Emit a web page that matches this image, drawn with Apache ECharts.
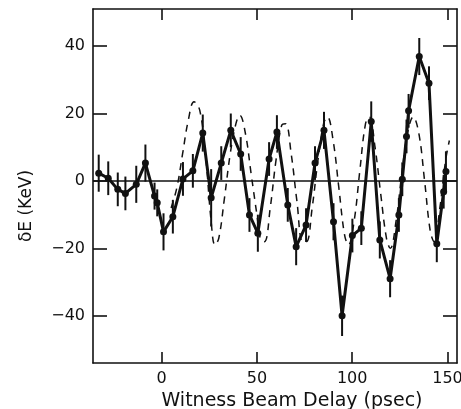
<!DOCTYPE html>
<html>
<head>
<meta charset="utf-8">
<script src="https://cdn.jsdelivr.net/npm/echarts@6/dist/echarts.min.js"></script>
<style>
  html, body { margin: 0; padding: 0; background: #fff; }
  #chart { width: 461px; height: 409px; }
</style>
</head>
<body>
<div id="chart"></div>
<script>
  // measured points (psec, keV) with error half-width
  var delay = [-33, -28, -23, -19, -13.3, -8.5, -3.7, -2.3, 1, 5.9, 11.2, 16.4, 21.6, 26, 31.3, 36.3, 41.5, 46.1, 50.5, 56.4, 60.5, 66.2, 70.6, 75.8, 80.5, 85.2, 90.2, 94.7, 100.1, 104.8, 110, 114.5, 119.9, 124.5, 126.3, 128.5, 129.6, 135.2, 140.3, 144.4, 148, 149.2]
  var deltaE = [2.3, 0.8, -2.5, -3.7, -1, 5.3, -4.5, -6.5, -15.1, -10.6, 0.6, 3, 14.2, -5, 5.3, 15, 8, -10.1, -15.5, 6.5, 14.5, -7.1, -19.5, -13.1, 5.3, 15, -12.1, -40, -16.2, -14, 17.6, -17.5, -29, -10.1, 0.5, 13.2, 20.8, 36.9, 29, -18.6, -3.2, 2.8]
  var errBar = [5.5, 5, 5, 5, 5.5, 5.5, 4, 4, 5.5, 5, 5, 5, 5.5, 8.5, 5, 5, 5, 5, 5.5, 5, 5, 5, 5.5, 5, 5, 5.5, 5.5, 6, 5, 5, 6, 5.5, 5.5, 5, 5, 5, 5, 5.5, 5, 5.5, 5, 6]

  // theory curve (dashed)
  var theoryDelay = [5, 8, 11, 14, 17, 20, 23, 26, 28, 30, 33, 36, 39, 41, 44, 47, 50, 52, 54, 57, 60, 63, 65, 68, 71, 74, 76, 79, 82, 85, 87, 90, 93, 96, 98, 101, 104, 107, 109, 112, 115, 118, 120, 123, 126, 129, 132, 135, 138, 141, 143, 146, 149, 151]
  var theoryE = [-8, -2, 8, 18, 23.5, 21, 8, -12, -19, -17, -5, 8, 17, 19.5, 14, 2, -10, -17.5, -18, -8, 6, 16.5, 17, 8, -6, -18, -18, -8, 6, 17, 19, 12, -2, -16, -19, -12, 3, 17, 19, 10, -4, -17, -20, -12, 2, 14, 19, 14, 0, -15, -18, -8, 6, 12]

  var xTicks = [0, 50, 100, 150]
  var yTicks = [-40, -20, 0, 20, 40]

  var chart = echarts.init(document.getElementById('chart'))

  var pts = delay.map(function (d, i) { return [d, deltaE[i]] })
  var bars = delay.map(function (d, i) { return [d, deltaE[i], errBar[i]] })
  var theory = theoryDelay.map(function (d, i) { return [d, theoryE[i]] })

  var font = 'DejaVu Sans'
  var frame = { show: true, onZero: false, lineStyle: { color: '#111', width: 1.6 } }
  var minus = function (v) { return String(v).replace('-', '\u2212') }

  chart.setOption({
    backgroundColor: '#fff',
    animation: false,
    grid: { left: 93, right: 4, top: 9, bottom: 46, outerBoundsMode: 'none' },
    xAxis: [
      {
        type: 'value',
        min: -36,
        max: 155,
        position: 'bottom',
        axisLine: frame,
        splitLine: { show: false },
        axisTick: { show: true, inside: true, length: 11, customValues: xTicks, lineStyle: { color: '#111', width: 1.6 } },
        axisLabel: { customValues: xTicks, color: '#111', fontFamily: font, fontSize: 16, margin: 8 },
        name: 'Witness Beam Delay (psec)',
        nameLocation: 'middle',
        nameGap: 23,
        nameTextStyle: { color: '#111', fontFamily: font, fontSize: 19, padding: [0, 0, 0, 34] }
      },
      {
        type: 'value',
        min: -36,
        max: 155,
        position: 'top',
        axisLine: frame,
        splitLine: { show: false },
        axisTick: { show: true, inside: true, length: 11, customValues: xTicks, lineStyle: { color: '#111', width: 1.6 } },
        axisLabel: { show: false }
      }
    ],
    yAxis: [
      {
        type: 'value',
        min: -54,
        max: 51,
        position: 'left',
        axisLine: frame,
        splitLine: { show: false },
        axisTick: { show: true, inside: true, length: 14, customValues: yTicks, lineStyle: { color: '#111', width: 1.6 } },
        axisLabel: { customValues: yTicks, color: '#111', fontFamily: font, fontSize: 16, margin: 8, formatter: minus },
        name: 'δE (KeV)',
        nameLocation: 'middle',
        nameGap: 58,
        nameRotate: 90,
        nameTextStyle: { color: '#111', fontFamily: font, fontSize: 17, padding: [0, 40, 0, 0] }
      },
      {
        type: 'value',
        min: -54,
        max: 51,
        position: 'right',
        axisLine: frame,
        splitLine: { show: false },
        axisTick: { show: true, inside: true, length: 14, customValues: yTicks, lineStyle: { color: '#111', width: 1.6 } },
        axisLabel: { show: false }
      }
    ],
    series: [
      {
        name: 'theory',
        type: 'line',
        data: theory,
        smooth: 0.4,
        showSymbol: false,
        lineStyle: { color: '#111', width: 1.5, type: [7, 6] },
        z: 2
      },
      {
        name: 'error',
        type: 'custom',
        data: bars,
        renderItem: function (params, api) {
          var x = api.value(0)
          var y = api.value(1)
          var e = api.value(2)
          var top = api.coord([x, y + e])
          var bot = api.coord([x, y - e])
          return {
            type: 'line',
            shape: { x1: top[0], y1: top[1], x2: bot[0], y2: bot[1] },
            style: { stroke: '#111', lineWidth: 2 }
          }
        },
        z: 3
      },
      {
        name: 'measured',
        type: 'line',
        data: pts,
        symbol: 'circle',
        symbolSize: 7,
        itemStyle: { color: '#111' },
        lineStyle: { color: '#111', width: 3 },
        markLine: {
          silent: true,
          symbol: 'none',
          label: { show: false },
          lineStyle: { color: '#111', width: 1.6, type: 'solid' },
          data: [{ yAxis: 0 }]
        },
        z: 4
      }
    ]
  })
</script>
</body>
</html>
